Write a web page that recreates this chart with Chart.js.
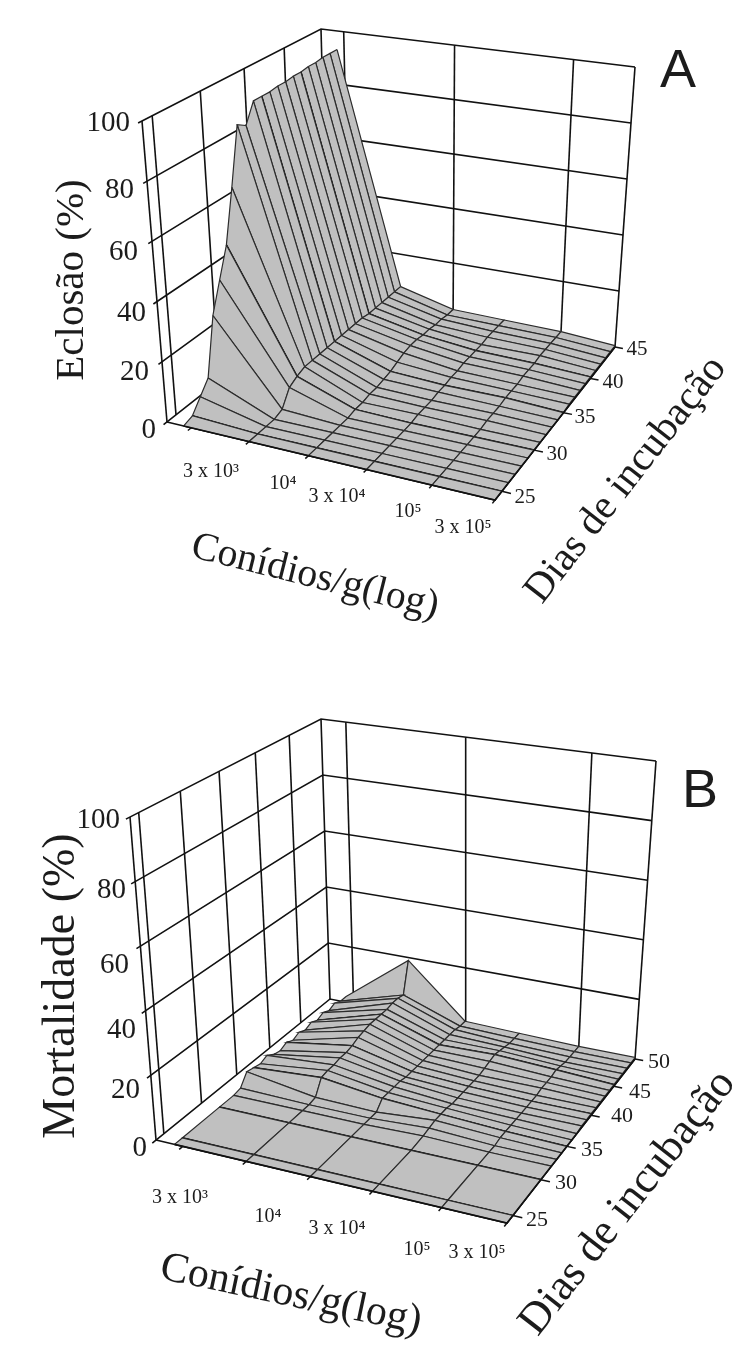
<!DOCTYPE html>
<html>
<head>
<meta charset="utf-8">
<title>Eclosão e mortalidade</title>
<script src="https://cdn.jsdelivr.net/npm/chart.js@4"></script>
<style>
    html, body { margin: 0; padding: 0; background: #fff; }
    canvas { display: block; filter: blur(0.45px); }
</style>
</head>
<body>
<canvas id="chartA" width="735" height="680"></canvas>
<canvas id="chartB" width="735" height="683"></canvas>
<script>
const conidios = ["3 x 10³", "10⁴", "3 x 10⁴", "10⁵", "3 x 10⁵"];
const niveis = [0, 20, 40, 60, 80, 100];

const diasA = [24, 25, 26, 27, 28, 29, 30, 31, 32, 33, 34, 35, 36, 37, 38, 39, 40, 41, 42, 43, 44, 45];
const ticksDiasA = [25, 30, 35, 40, 45];
const eclosaoC1 = [0, 1, 5, 9, 28, 38, 48, 66, 86, 84, 91, 91, 91, 91.5, 91.5, 92, 92, 92.5, 92.5, 93, 93, 93];
const eclosaoC2 = [0, 0, 0, 0, 1, 6, 7.5, 8.5, 8.5, 8.5, 8.5, 8.5, 8.5, 8.5, 8.5, 8.5, 8, 8, 8, 8, 8, 8];
const eclosaoC3 = [0, 0, 0, 0, 0, 0, 0.5, 0.5, 1, 1, 1.5, 2, 3, 4, 4.5, 4.5, 4, 4, 3.5, 3.5, 3, 3];
const eclosaoC4 = [0, 0, 0, 0, 0, 0, 0, 0.5, 0.5, 0.5, 1, 1, 1.5, 1.5, 2, 2, 2, 2, 2.5, 2.5, 2.5, 2.5];
const eclosaoC5 = [0, 0, 0, 0, 0, 0, 0, 0, 0.5, 0.5, 0.5, 1, 1, 1, 1.5, 1.5, 1.5, 2, 2, 2, 2, 2];
const eclosaoC6 = [0, 0, 0, 0, 0, 0, 0, 0, 0, 0, 0, 0, 0.5, 0.5, 0.5, 0.5, 0.5, 0.5, 0.5, 0.5, 0.5, 0.5];

const diasB = [24, 25, 30, 32, 33, 34, 35, 36, 37, 38, 39, 40, 41, 42, 43, 44, 45, 46, 47, 48, 49, 50];
const ticksDiasB = [25, 30, 35, 40, 45, 50];
const mortalidadeC1 = [0, 0, 0, 0, 0.5, 4, 3.5, 3, 4, 2.5, 2, 3, 2, 3, 2, 3, 2, 3, 2, 3, 2, 2];
const mortalidadeC2 = [0, 0, 0, 0, 0, 0.5, 5, 5.5, 5.5, 6, 6, 6.5, 7.5, 8, 8.5, 8.5, 8.5, 8.5, 9, 9, 8.5, 19];
const mortalidadeC3 = [0, 0, 0, 0, 0, 0, 2.5, 2.5, 2.5, 2.5, 2, 2, 2, 2, 2, 2, 2, 2, 2, 2, 1.5, 1.5];
const mortalidadeC4 = [0, 0, 0, 0.5, 1, 1.5, 1.5, 1.5, 1, 1, 1, 1, 1, 1, 1.5, 2, 2.5, 2, 1.5, 1, 1, 1];
const mortalidadeC5 = [0, 0, 0, 0, 0, 0.5, 0.5, 0.5, 0.5, 0.5, 0.5, 0.5, 0.5, 1, 1, 1, 1.5, 1, 0.5, 0.5, 0.5, 0.5];
const mortalidadeC6 = [0, 0, 0, 0, 0, 0, 0, 0, 0, 0.5, 0.5, 0.5, 0.5, 0.5, 0.5, 0.5, 0.5, 0.5, 0.5, 0.5, 0.5, 0.5];

// view of each box: corners of floor and ceiling as they appear on the page
const vistaA = {
    yRange: [0, 680],
    floor: [[167, 422], [495, 500], [615, 347], [328, 295]],
    top: [[142, 121], [500, 185], [635, 67], [321, 29]]
};
const vistaB = {
    yRange: [680, 1363],
    floor: [[156, 1140], [507, 1223], [635, 1059], [330, 999]],
    top: [[130, 817], [511, 882], [656, 761], [321, 719]]
};

// where each concentration column sits along the floor, 0 to 1
const colunaU = [0.0566, 0.272, 0.459, 0.635, 0.825, 1];
const primeiroTickU = 0.082;

function MakeHomography(q) {
    const [x0, y0] = q[0], [x1, y1] = q[1], [x2, y2] = q[2], [x3, y3] = q[3];
    const dx1 = x1 - x2, dx2 = x3 - x2, sx = x0 - x1 + x2 - x3;
    const dy1 = y1 - y2, dy2 = y3 - y2, sy = y0 - y1 + y2 - y3;
    const den = dx1 * dy2 - dx2 * dy1;
    const g = (sx * dy2 - dx2 * sy) / den;
    const h = (dx1 * sy - sx * dy1) / den;
    const a = x1 - x0 + g * x1, b = x3 - x0 + h * x3;
    const d = y1 - y0 + g * y1, e = y3 - y0 + h * y3;
    return (u, v) => {
        const w = g * u + h * v + 1;
        return [(a * u + b * v + x0) / w, (d * u + e * v + y0) / w];
    };
}

function MakeProjection(vista) {
    const floor = MakeHomography(vista.floor);
    const top = MakeHomography(vista.top);
    return (u, v, nivel) => {
        const f = floor(u, v), t = top(u, v), k = nivel / 100;
        return { x: f[0] + (t[0] - f[0]) * k, y: f[1] + (t[1] - f[1]) * k };
    };
}

function Line(data, width, color) {
    return { data: data, showLine: true, fill: false, pointRadius: 0, borderWidth: width, borderColor: color, tension: 0 };
}

function BuildDatasets(vista, dias, ticksDias, colunas) {
    const P = MakeProjection(vista);
    const first = dias[0], last = dias[dias.length - 1];
    const V = d => (d - first) / (last - first);
    const sets = [];
    const wall = "#111";

    // left wall and back wall
    niveis.forEach(n => {
        sets.push(Line([P(0, -0.018, n), P(0, 1, n), P(1, 1, n)], 1.6, wall));
    });
    [first].concat(ticksDias).forEach(d => {
        sets.push(Line([P(0, V(d), 0), P(0, V(d), 100)], 1.6, wall));
    });
    [primeiroTickU, colunaU[2], colunaU[4], 1].forEach(u => {
        sets.push(Line([P(u, 1, 0), P(u, 1, 100)], 1.6, wall));
    });

    // floor edges under the surface
    sets.push(Line([P(0, 0, 0), P(1, 0, 0), P(1, 1, 0)], 1.6, wall));

    // surface, back rows first so the front covers them
    for (let i = dias.length - 2; i >= 0; i--) {
        for (let j = 0; j < colunas.length - 1; j++) {
            const v0 = V(dias[i]), v1 = V(dias[i + 1]);
            const u0 = colunaU[j], u1 = colunaU[j + 1];
            const quad = [
                P(u0, v1, colunas[j][i + 1]),
                P(u1, v1, colunas[j + 1][i + 1]),
                P(u1, v0, colunas[j + 1][i]),
                P(u0, v0, colunas[j][i]),
                P(u0, v1, colunas[j][i + 1])
            ];
            const ds = Line(quad, 1.2, "#2c2c2c");
            ds.fill = "shape";
            ds.backgroundColor = "#c0c0c0";
            sets.push(ds);
        }
        // major day lines are heavier
        if (ticksDias.includes(dias[i])) {
            const row = colunas.map((c, j) => P(colunaU[j], V(dias[i]), c[i]));
            sets.push(Line(row, 1.7, "#111"));
        }
    }

    // front edge and tick marks
    sets.push(Line([P(colunaU[0], 0, 0), P(1, 0, 0), P(1, 1, 0)], 1.6, wall));
    [primeiroTickU].concat(colunaU.slice(1)).forEach(u => {
        sets.push(Line([P(u, 0, 0), P(u, -0.018, 0)], 1.5, wall));
    });
    ticksDias.forEach(d => {
        sets.push(Line([P(1, V(d), 0), P(1.025, V(d), 0)], 1.5, wall));
    });

    // Chart.js paints the first dataset last
    return sets.reverse();
}

const textPlugin = {
    id: "panelText",
    afterDraw(chart, args, opts) {
        const ctx = chart.ctx;
        opts.items.forEach(t => {
            ctx.save();
            ctx.translate(chart.scales.x.getPixelForValue(t.x), chart.scales.y.getPixelForValue(t.y));
            ctx.rotate((t.angle || 0) * Math.PI / 180);
            ctx.font = t.font;
            ctx.fillStyle = "#1c1c1c";
            ctx.textAlign = t.align || "center";
            ctx.textBaseline = "middle";
            ctx.fillText(t.text, 0, 0);
            ctx.restore();
        });
    }
};

function CreateChart(id, vista, dias, ticksDias, colunas, items) {
    new Chart(document.getElementById(id), {
        type: "scatter",
        data: { datasets: BuildDatasets(vista, dias, ticksDias, colunas) },
        plugins: [textPlugin],
        options: {
            responsive: false,
            animation: false,
            layout: { padding: 0 },
            scales: {
                x: { type: "linear", display: false, min: 0, max: 735 },
                y: { type: "linear", display: false, min: vista.yRange[0], max: vista.yRange[1], reverse: true }
            },
            plugins: {
                legend: { display: false },
                tooltip: { enabled: false },
                panelText: { items: items }
            }
        }
    });
}

function Labels(title, zTitle, concPos, nivelPos, diaPos, ticksDias, xTitle, dayTitle, fonts) {
    const items = [];
    conidios.forEach((c, i) => items.push({ text: c, x: concPos[i][0], y: concPos[i][1], font: fonts.conc }));
    niveis.forEach((n, i) => items.push({ text: String(n), x: nivelPos[i][0], y: nivelPos[i][1], font: fonts.nivel, align: "right" }));
    ticksDias.forEach((d, i) => items.push({ text: String(d), x: diaPos[i][0], y: diaPos[i][1], font: fonts.dia }));
    return items.concat([title, zTitle, xTitle, dayTitle]);
}

const serif = '"Liberation Serif", serif';

const textosA = Labels(
    { text: "A", x: 678, y: 72, font: '54px "Liberation Sans", sans-serif' },
    { text: "Eclosão (%)", x: 72, y: 280, angle: -90, font: "41px " + serif },
    [[211, 472], [283, 484], [337, 497], [408, 512], [463, 528]],
    [[156, 430], [149, 372], [146, 313], [138, 252], [134, 190], [130, 123]],
    [[525, 497], [557, 454], [585, 417], [613, 382], [637, 349]],
    ticksDiasA,
    { text: "Conídios/g(log)", x: 315, y: 577, angle: 14, font: "40px " + serif },
    { text: "Dias de incubação", x: 626, y: 480, angle: -52, font: "41px " + serif },
    { conc: "20px " + serif, nivel: "29px " + serif, dia: "21px " + serif }
);

const textosB = Labels(
    { text: "B", x: 700, y: 792, font: '54px "Liberation Sans", sans-serif' },
    { text: "Mortalidade (%)", x: 62, y: 986, angle: -90, font: "46px " + serif },
    [[180, 1198], [268, 1217], [337, 1229], [417, 1250], [477, 1253]],
    [[147, 1148], [140, 1090], [136, 1030], [129, 965], [126, 890], [120, 820]],
    [[537, 1220], [566, 1183], [592, 1150], [622, 1116], [640, 1092], [659, 1062]],
    ticksDiasB,
    { text: "Conídios/g(log)", x: 291, y: 1295, angle: 12, font: "42px " + serif },
    { text: "Dias de incubação", x: 628, y: 1203, angle: -52, font: "44px " + serif },
    { conc: "20px " + serif, nivel: "29px " + serif, dia: "22px " + serif }
);

CreateChart("chartA", vistaA, diasA, ticksDiasA,
    [eclosaoC1, eclosaoC2, eclosaoC3, eclosaoC4, eclosaoC5, eclosaoC6], textosA);
CreateChart("chartB", vistaB, diasB, ticksDiasB,
    [mortalidadeC1, mortalidadeC2, mortalidadeC3, mortalidadeC4, mortalidadeC5, mortalidadeC6], textosB);
</script>
</body>
</html>
